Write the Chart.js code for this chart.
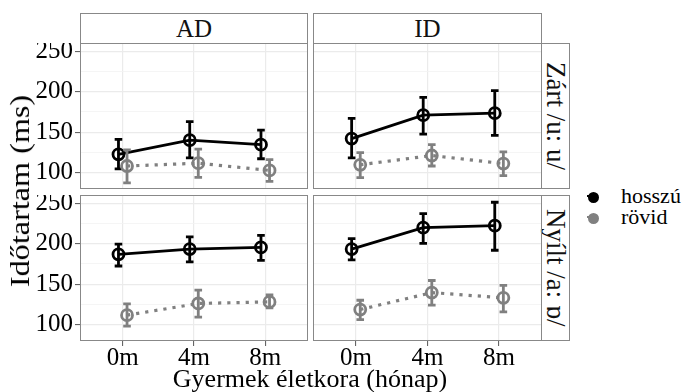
<!DOCTYPE html>
<html>
<head>
<meta charset="utf-8">
<script src="https://cdn.jsdelivr.net/npm/chart.js@4"></script>
<style>
body { margin: 0; background: #fff; }
#wrap { position: relative; width: 694px; height: 392px; overflow: hidden; font-family: "Liberation Serif", "DejaVu Serif", serif; color: #000; }
#wrap canvas { position: absolute; }
.strip { position: absolute; box-sizing: border-box; border: 1px solid #888; background: #fff; display: flex; align-items: center; justify-content: center; font-size: 25px; color: #111; }
.strip.side { font-size: 27px; }
.strip.side span { writing-mode: vertical-rl; white-space: nowrap; }
.title { position: absolute; white-space: nowrap; font-size: 26px; }
.leg { position: absolute; font-size: 22px; line-height: 22px; white-space: nowrap; }
.key { position: absolute; width: 11px; height: 11px; box-sizing: border-box; border-radius: 50%; border: 2.75px solid #000; }
.key::after { content: ''; position: absolute; left: -2.75px; top: 1.4px; width: 11px; height: 2.6px; background: inherit; }
</style>
</head>
<body>
<div id="wrap">
  <div class="strip" style="left:80px;top:13px;width:228px;height:31px;">AD</div>
  <div class="strip" style="left:313px;top:13px;width:229px;height:31px;">ID</div>
  <div class="strip side" style="left:541px;top:43px;width:29px;height:146px;"><span>Zárt /u: u/</span></div>
  <div class="strip side" style="left:541px;top:195px;width:29px;height:146px;"><span>Nyílt /a: ɒ/</span></div>

  <canvas id="c-ad-zart" width="308" height="146" style="left:0;top:43px;"></canvas>
  <canvas id="c-id-zart" width="229" height="146" style="left:313px;top:43px;"></canvas>
  <canvas id="c-ad-nyilt" width="308" height="186" style="left:0;top:195px;"></canvas>
  <canvas id="c-id-nyilt" width="229" height="186" style="left:313px;top:195px;"></canvas>

  <div class="title" style="left:20px;top:191px;font-size:28px;transform:translate(-50%,-50%) rotate(-90deg) scaleX(1.15);">Időtartam (ms)</div>
  <div class="title" style="left:310px;top:364px;transform:translateX(-50%);">Gyermek életkora (hónap)</div>

  <div class="key" style="left:588px;top:191.5px;background:#000;border-color:#000;"></div>
  <div class="leg" style="left:621px;top:185px;">hosszú</div>
  <div class="key" style="left:588px;top:212.5px;background:#808080;border-color:#808080;"></div>
  <div class="leg" style="left:621px;top:206px;">rövid</div>
</div>

<script>
// ADATOK
const ages = ['0m', '4m', '8m'];
const yMajor = [100, 150, 200, 250];
const yMinor = [125, 175, 225];

// Zárt /u: u/
const adZartHosszu = [122.5, 140, 134.5];
const adZartHosszuCI = [[104.5, 141], [118, 163], [117, 152.5]];
const adZartRovid = [108, 111.5, 102.5];
const adZartRovidCI = [[87, 128], [94, 129], [89, 116]];
const idZartHosszu = [142, 171, 173.5];
const idZartHosszuCI = [[118, 167], [147.5, 193], [146, 201.5]];
const idZartRovid = [109.5, 121, 111];
const idZartRovidCI = [[93.5, 124.5], [108, 134.5], [96, 125.5]];

// Nyílt /a: ɒ/
const adNyiltHosszu = [187, 193.5, 195.5];
const adNyiltHosszuCI = [[172.5, 199.5], [177.5, 208.5], [179.5, 210.5]];
const adNyiltRovid = [111.5, 126, 128];
const adNyiltRovidCI = [[98, 125.5], [109, 142.5], [120.5, 136.5]];
const idNyiltHosszu = [193.5, 220, 222.5];
const idNyiltHosszuCI = [[180, 206.5], [200.5, 237.5], [192, 251.5]];
const idNyiltRovid = [118.5, 139.5, 133];
const idNyiltRovidCI = [[106, 130], [124, 154.5], [115.5, 148.5]];

const GREY = '#808080';
const FONT = '"Liberation Serif", "DejaVu Serif", serif';
const DODGE = 0.06;

// hibasávok a skálákon keresztül
const errorBars = {
    id: 'errorBars',
    afterDatasetDraw(chart, args) {
        const ds = chart.data.datasets[args.index];
        if (!ds.ci) return;
        const { ctx, scales: { x, y } } = chart;
        ctx.save();
        ctx.strokeStyle = ds.borderColor;
        ctx.lineWidth = 2.8;
        ctx.setLineDash([]);
        ds.data.forEach((p, i) => {
            const px = x.getPixelForValue(p.x);
            const lo = y.getPixelForValue(ds.ci[i][0]);
            const hi = y.getPixelForValue(ds.ci[i][1]);
            ctx.beginPath();
            ctx.moveTo(px, lo); ctx.lineTo(px, hi);
            ctx.moveTo(px - 3.8, lo); ctx.lineTo(px + 3.8, lo);
            ctx.moveTo(px - 3.8, hi); ctx.lineTo(px + 3.8, hi);
            ctx.stroke();
        });
        ctx.restore();
    }
};

const panelBorder = {
    id: 'panelBorder',
    afterDraw(chart) {
        const { ctx, chartArea: a } = chart;
        ctx.save();
        ctx.strokeStyle = '#888';
        ctx.lineWidth = 1;
        ctx.strokeRect(Math.round(a.left) + 0.5, Math.round(a.top) + 0.5, Math.round(a.right - a.left) - 1, Math.round(a.bottom - a.top) - 1);
        ctx.restore();
    }
};

function series(label, values, ci, color, offset, dashed, order) {
    return {
        label,
        data: values.map((v, i) => ({ x: i + 1 + offset, y: v })),
        ci,
        borderColor: color,
        borderWidth: dashed ? 3.2 : 2.8,
        borderDash: dashed ? [3.2, 6] : [],
        pointRadius: 5.5,
        pointBorderWidth: 2.8,
        pointBorderColor: color,
        pointBackgroundColor: 'rgba(0,0,0,0)',
        tension: 0,
        order
    };
}

function noPad(s) {
    s.paddingTop = 0; s.paddingBottom = 0; s.paddingLeft = 0; s.paddingRight = 0;
}

function panel(id, hosszu, hosszuCI, rovid, rovidCI, showY, showX) {
    new Chart(document.getElementById(id), {
        type: 'line',
        data: {
            datasets: [
                series('rövid', rovid, rovidCI, GREY, DODGE, true, 0),
                series('hosszú', hosszu, hosszuCI, '#000', -DODGE, false, 1)
            ]
        },
        options: {
            responsive: false,
            animation: false,
            layout: { padding: 0, autoPadding: false },
            plugins: { legend: { display: false }, tooltip: { enabled: false } },
            scales: {
                x: {
                    type: 'linear', min: 0.4, max: 3.6,
                    afterBuildTicks: s => { s.ticks = ages.map((a, i) => ({ value: i + 1 })); },
                    afterFit: s => { s.height = showX ? 40 : 0; noPad(s); },
                    border: { display: false },
                    grid: { color: '#ebebeb', lineWidth: 1.2, drawTicks: showX, tickLength: 5, tickColor: '#555', tickWidth: 1 },
                    ticks: {
                        display: showX, autoSkip: false, maxRotation: 0, padding: 0,
                        callback: v => ages[Math.round(v) - 1],
                        font: { family: FONT, size: 25, lineHeight: 1 }, color: '#000'
                    }
                },
                y: {
                    type: 'linear', min: 79.5, max: 260.5,
                    afterBuildTicks: s => { s.ticks = yMajor.concat(yMinor).sort((a, b) => a - b).map(v => ({ value: v })); },
                    afterFit: s => { s.width = showY ? 80 : 0; noPad(s); },
                    border: { display: false },
                    grid: {
                        color: c => yMajor.includes(c.tick.value) ? '#ebebeb' : '#f3f3f3',
                        lineWidth: c => yMajor.includes(c.tick.value) ? 1.2 : 0.8,
                        drawTicks: showY, tickLength: 5,
                        tickColor: c => yMajor.includes(c.tick.value) ? '#555' : 'rgba(0,0,0,0)',
                        tickWidth: 1
                    },
                    ticks: {
                        display: showY, autoSkip: false, padding: 2,
                        callback: v => yMajor.includes(v) ? String(v) : '',
                        font: { family: FONT, size: 25, lineHeight: 1 }, color: '#000'
                    }
                }
            }
        },
        plugins: [errorBars, panelBorder]
    });
}

panel('c-ad-zart', adZartHosszu, adZartHosszuCI, adZartRovid, adZartRovidCI, true, false);
panel('c-id-zart', idZartHosszu, idZartHosszuCI, idZartRovid, idZartRovidCI, false, false);
panel('c-ad-nyilt', adNyiltHosszu, adNyiltHosszuCI, adNyiltRovid, adNyiltRovidCI, true, true);
panel('c-id-nyilt', idNyiltHosszu, idNyiltHosszuCI, idNyiltRovid, idNyiltRovidCI, false, true);
</script>
</body>
</html>
